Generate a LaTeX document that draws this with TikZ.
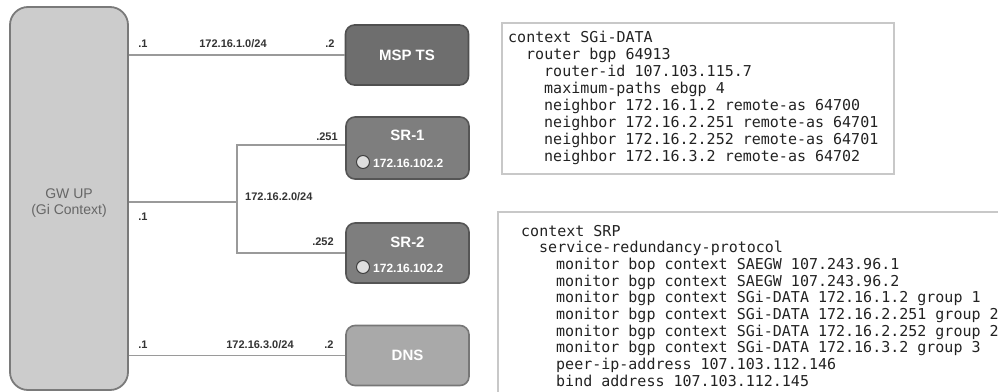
\documentclass[tikz,border=0pt]{standalone}
\usepackage{fontspec}
\setmainfont{Liberation Sans}
\newfontfamily\codefont{DejaVu Sans Mono}
\definecolor{gwfill}{HTML}{CCCCCC}
\definecolor{gwdraw}{HTML}{7A7A7A}
\definecolor{mspfill}{HTML}{6E6E6E}
\definecolor{mspdraw}{HTML}{505050}
\definecolor{srfill}{HTML}{7E7E7E}
\definecolor{srdraw}{HTML}{555555}
\definecolor{dnsfill}{HTML}{A9A9A9}
\definecolor{dnsdraw}{HTML}{777777}
\definecolor{wire}{HTML}{9A9A9A}
\definecolor{lbl}{HTML}{333333}
\definecolor{codebox}{HTML}{C8C8C8}
\definecolor{codetxt}{HTML}{222222}
\tikzset{
  dev/.style={rectangle, rounded corners=9pt, line width=1.6pt, minimum width=123pt, minimum height=60pt, inner sep=0pt},
  wireline/.style={draw=wire, line width=1.8pt},
  netlbl/.style={font=\fontsize{11}{13}\selectfont\bfseries, text=lbl, inner sep=0pt},
  devtitle/.style={font=\fontsize{15}{17}\selectfont\bfseries, text=white, inner sep=0pt},
  devip/.style={font=\fontsize{12}{14}\selectfont\bfseries, text=white, inner sep=0pt},
  led/.style={circle, fill=black!13, draw=black!75, line width=1pt, minimum size=13pt, inner sep=0pt},
  codeline/.style={font=\codefont\fontsize{15}{17}\selectfont, text=codetxt, inner sep=0pt, anchor=base west},
}
\begin{document}
\begin{tikzpicture}[x=1pt,y=-1pt]
\useasboundingbox (0,0) rectangle (998,391);
% GW UP
\node[rectangle, rounded corners=18pt, fill=gwfill, draw=gwdraw, line width=1.8pt, minimum width=118pt, minimum height=383pt, inner sep=0pt] (gw) at (69,198.5) {};
\node[font=\fontsize{14}{16}\selectfont, text=black!60, align=center, inner sep=0pt] (gwlbl) at (69,203) {GW UP\\(Gi Context)};
% devices
\node[dev, fill=mspfill, draw=mspdraw] (msp) at (407,55) {};
\node[devtitle] (msplbl) at (msp) {MSP TS};
\node[dev, fill=srfill, draw=srdraw, minimum height=62pt] (sr1) at (407.5,148) {};
\node[devtitle] (sr1lbl) at (407.5,135) {SR-1};
\node[led] (sr1led) at (363,162) {};
\node[devip, anchor=west] (sr1ip) at (373,163) {172.16.102.2};
\node[dev, fill=srfill, draw=srdraw] (sr2) at (407.5,253) {};
\node[devtitle] (sr2lbl) at (407.5,242) {SR-2};
\node[led] (sr2led) at (363,267) {};
\node[devip, anchor=west] (sr2ip) at (373,268) {172.16.102.2};
\node[dev, fill=dnsfill, draw=dnsdraw] (dns) at (407.5,355.5) {};
\node[devtitle] (dnslbl) at (dns) {DNS};
% wires
\coordinate (br) at (237,202);
\draw[wireline] (gw.east |- msp.west) -- (msp.west);
\draw[wireline] (gw.east |- br) -- (br);
\draw[wireline] ([yshift=3pt]sr1.west) -| (br) |- (sr2.west);
\draw[wireline] (gw.east |- dns.west) -- (dns.west);
% net labels
\node[netlbl] (l1a) at (143,44) {.1};
\node[netlbl] (l1n) at (233,44) {172.16.1.0/24};
\node[netlbl] (l1b) at (330,44) {.2};
\node[netlbl] (l2a) at (327,137) {.251};
\node[netlbl, anchor=west] (l2n) at (245,197) {172.16.2.0/24};
\node[netlbl] (l2g) at (143,217) {.1};
\node[netlbl] (l2b) at (323,242) {.252};
\node[netlbl] (l3a) at (143,345) {.1};
\node[netlbl] (l3n) at (260,345) {172.16.3.0/24};
\node[netlbl] (l3b) at (329,345) {.2};
% code box 1
\draw[draw=codebox, line width=1.5pt] (502,23) rectangle (894,174);
\node[codeline] (c1) at (508,42) {context SGi-DATA};
\node[codeline] (c2) at (526,59) {router bgp 64913};
\node[codeline] (c3) at (544,76) {router-id 107.103.115.7};
\node[codeline] (c4) at (544,93) {maximum-paths ebgp 4};
\node[codeline] (c5) at (544,110) {neighbor 172.16.1.2 remote-as 64700};
\node[codeline] (c6) at (544,127) {neighbor 172.16.2.251 remote-as 64701};
\node[codeline] (c7) at (544,144) {neighbor 172.16.2.252 remote-as 64701};
\node[codeline] (c8) at (544,161) {neighbor 172.16.3.2 remote-as 64702};
% code box 2 (runs off the right and bottom edges)
\draw[draw=codebox, line width=1.5pt] (498,400) -- (498,212) -- (1010,212);
\node[codeline] (s1) at (521,236) {context SRP};
\node[codeline] (s2) at (539,252.7) {service-redundancy-protocol};
\node[codeline] (s3) at (556,269.3) {monitor bop context SAEGW 107.243.96.1};
\node[codeline] (s4) at (556,286) {monitor bgp context SAEGW 107.243.96.2};
\node[codeline] (s5) at (556,302.7) {monitor bgp context SGi-DATA 172.16.1.2 group 1};
\node[codeline] (s6) at (556,319.3) {monitor bgp context SGi-DATA 172.16.2.251 group 2};
\node[codeline] (s7) at (556,336) {monitor bgp context SGi-DATA 172.16.2.252 group 2};
\node[codeline] (s8) at (556,352.7) {monitor bgp context SGi-DATA 172.16.3.2 group 3};
\node[codeline] (s9) at (556,369.3) {peer-ip-address 107.103.112.146};
\node[codeline] (s10) at (556,386) {bind address 107.103.112.145};
\end{tikzpicture}
\end{document}
